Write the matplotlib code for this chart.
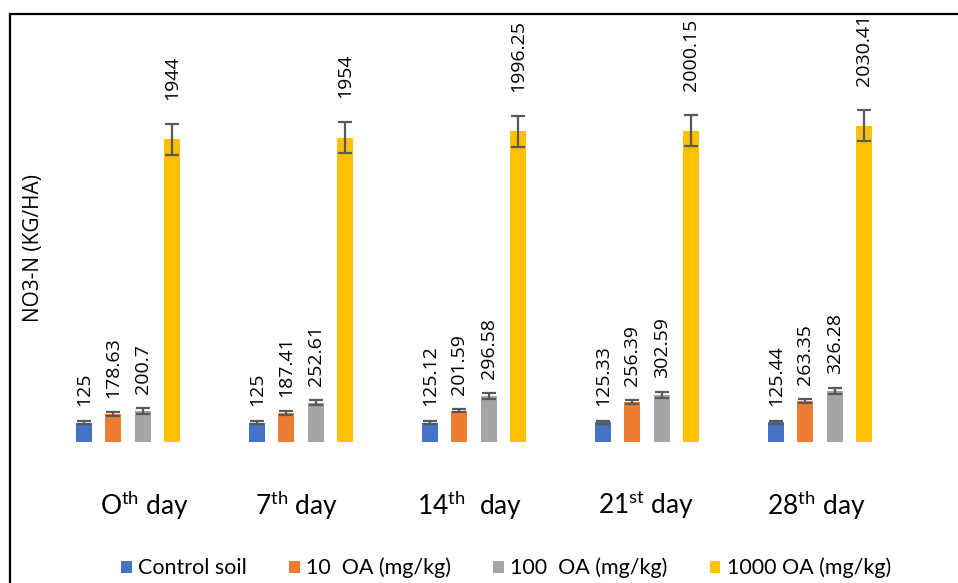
import matplotlib
matplotlib.use("Agg")
import matplotlib.pyplot as plt
from matplotlib.lines import Line2D
import numpy as np

plt.rcParams['font.family'] = ['Lato', 'DejaVu Sans']
plt.rcParams['mathtext.fontset'] = 'custom'
plt.rcParams['mathtext.rm'] = 'Lato'

days = ["O$^{\\mathrm{th}}$ day", "7$^{\\mathrm{th}}$ day", "14$^{\\mathrm{th}}$  day",
        "21$^{\\mathrm{st}}$ day", "28$^{\\mathrm{th}}$ day"]
series = ["Control soil", "10  OA (mg/kg)", "100  OA (mg/kg)", "1000 OA (mg/kg)"]
control = [125, 125, 125.12, 125.33, 125.44]
oa10 = [178.63, 187.41, 201.59, 256.39, 263.35]
oa100 = [200.7, 252.61, 296.58, 302.59, 326.28]
oa1000 = [1944, 1954, 1996.25, 2000.15, 2030.41]
label_text = [
    ["125", "125", "125.12", "125.33", "125.44"],
    ["178.63", "187.41", "201.59", "256.39", "263.35"],
    ["200.7", "252.61", "296.58", "302.59", "326.28"],
    ["1944", "1954", "1996.25", "2000.15", "2030.41"],
]
err_control = [8, 8, 8, 8, 8]
err_10 = [12, 12, 12, 12, 12]
err_100 = [18, 18, 18, 18, 18]
err_1000 = [100, 100, 100, 100, 100]

values = [control, oa10, oa100, oa1000]
errors = [err_control, err_10, err_100, err_1000]
colors = ["#4472C4", "#ED7D31", "#A5A5A5", "#FFC000"]
label_pad = [15, 14, 14, 24]
day_label_dx = [17, -4, -4, -1, -4]

W, H = 958, 583
fig = plt.figure(figsize=(W / 100, H / 100), dpi=100)
ax = fig.add_axes([41.5 / W, (H - 442) / H, 865 / W, 428 / H])

x = np.arange(len(days))
width = 0.093
offsets = [-0.255, -0.085, 0.085, 0.255]
for s in range(4):
    ax.bar(x + offsets[s], values[s], width, color=colors[s], label=series[s],
           yerr=errors[s], ecolor="#595959",
           error_kw=dict(capsize=4.8, elinewidth=1.6, capthick=1.6), zorder=2)
    for i in range(len(days)):
        ax.annotate(label_text[s][i], xy=(x[i] + offsets[s], values[s][i] + errors[s][i]),
                    xytext=(0, label_pad[s]), textcoords="offset pixels",
                    rotation=90, ha="center", va="bottom", fontsize=14,
                    family=["Open Sans", "DejaVu Sans"], color="#000000")

for i, d in enumerate(days):
    ax.annotate(d, xy=(x[i], 0), xycoords=("data", "axes fraction"),
                xytext=(day_label_dx[i], -63), textcoords="offset pixels",
                ha="center", va="center", fontsize=19, color="#000000")

ax.set_xlim(-0.5, 4.5)
ax.set_ylim(0, 428 / 0.1557)
ax.set_xticks([])
ax.set_yticks([])
for sp in ax.spines.values():
    sp.set_visible(False)

fig.text(34 / W, 1 - 248 / H, "NO3-N (KG/HA)", rotation=90, ha="center", va="center",
         fontsize=15, family=["Open Sans", "DejaVu Sans"], color="#000000")

# figure border lines
fig.add_artist(Line2D([9.5 / W, 9.5 / W], [0, 1 - 14 / H], color="black", lw=1.6,
                      transform=fig.transFigure))
fig.add_artist(Line2D([9.5 / W, 1], [1 - 14 / H, 1 - 14 / H], color="black", lw=1.6,
                      transform=fig.transFigure))

fig.legend(loc="center", bbox_to_anchor=(506 / W, 1 - 568 / H), ncol=4, frameon=False,
           handlelength=0.5, handleheight=0.5, handletextpad=0.3, columnspacing=1.95,
           fontsize=15.5)

fig.savefig("out.png", dpi=100)
